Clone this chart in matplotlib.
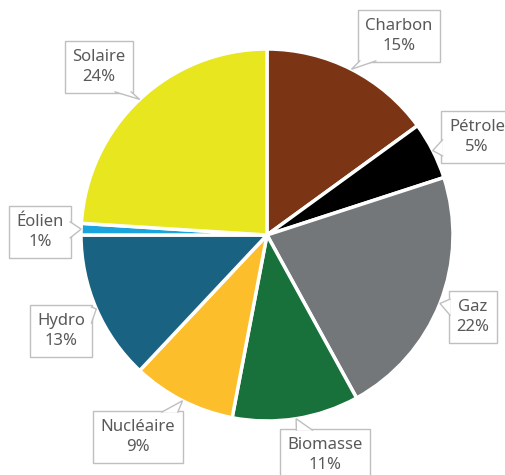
import numpy as np
import matplotlib.pyplot as plt
from matplotlib.patches import Polygon

labels = ["Charbon", "Pétrole", "Gaz", "Biomasse", "Nucléaire", "Hydro", "Éolien", "Solaire"]
shares = [15, 5, 22, 11, 9, 13, 1, 24]
colors = ["#7B3414", "#000000", "#74777A", "#18703A", "#FDBE2B", "#1A6282", "#1AA3DC", "#E8E61E"]

# label box centres, in pixels from top-left
label_pos = [(399, 36), (477, 137), (473, 317), (325, 455),
             (138, 437), (61, 331), (40, 232), (99, 67)]

W, H = 506, 475
cx, cy, r = 267, 235, 186
edge = "#BFBFBF"

fig = plt.figure(figsize=(W / 100, H / 100), dpi=100)
ax = fig.add_axes([0, 0, 1, 1])

wedges, _ = ax.pie(shares, colors=colors, startangle=90, counterclock=False,
                   center=(cx, H - cy), radius=r,
                   wedgeprops=dict(edgecolor="white", linewidth=2.5))
ax.set_xlim(0, W)
ax.set_ylim(0, H)
ax.set_aspect("equal")
ax.axis("off")

texts, tips = [], []
for w, lab, s, (px, py) in zip(wedges, labels, shares, label_pos):
    ang = np.deg2rad((w.theta1 + w.theta2) / 2)
    tips.append((cx + r * np.cos(ang), H - cy + r * np.sin(ang)))
    t = ax.text(px, H - py, f"{lab}\n{s}%", ha="center", va="center",
                fontsize=12, color="#595959", family="Noto Sans", linespacing=1.4,
                bbox=dict(boxstyle="square,pad=0.45", fc="white", ec=edge, lw=1),
                zorder=3, clip_on=False)
    texts.append(t)

# callout pointers: triangle from the box edge to the slice edge
fig.canvas.draw()
inv = ax.transData.inverted()
half = 8
for t, (tx, ty) in zip(texts, tips):
    bb = t.get_bbox_patch().get_window_extent()
    (x0, y0), (x1, y1) = inv.transform([(bb.x0, bb.y0), (bb.x1, bb.y1)])
    mx, my = (x0 + x1) / 2, (y0 + y1) / 2
    dx, dy = tx - mx, ty - my
    sx = (x1 - x0) / 2 / abs(dx) if dx else np.inf
    sy = (y1 - y0) / 2 / abs(dy) if dy else np.inf
    s = min(sx, sy)
    bx, by = mx + s * dx, my + s * dy
    if sx < sy:
        by = np.clip(by, y0 + half + 2, y1 - half - 2)
        bx -= np.sign(dx) * 1
        b1, b2 = (bx, by - half), (bx, by + half)
    else:
        bx = np.clip(bx, x0 + half + 2, x1 - half - 2)
        by -= np.sign(dy) * 1
        b1, b2 = (bx - half, by), (bx + half, by)
    ax.add_patch(Polygon([b1, (tx, ty), b2], closed=True, fc="white", ec="none",
                         zorder=4, clip_on=False))
    ax.plot([b1[0], tx, b2[0]], [b1[1], ty, b2[1]], color=edge, lw=1,
            zorder=5, clip_on=False, solid_joinstyle="miter")

fig.savefig("out.png", dpi=100)
